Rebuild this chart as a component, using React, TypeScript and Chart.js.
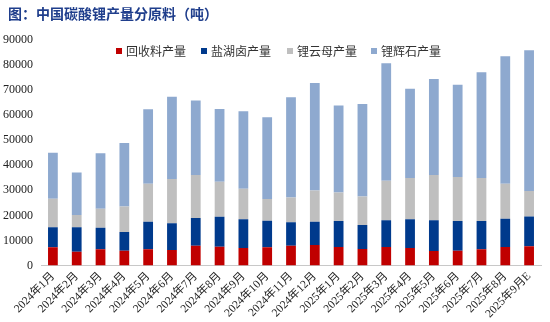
import React, { useEffect, useRef } from "react";
import { Chart, registerables } from "chart.js";

Chart.register(...registerables);

const categories = [
  "2024年1月", "2024年2月", "2024年3月", "2024年4月", "2024年5月", "2024年6月", "2024年7月",
  "2024年8月", "2024年9月", "2024年10月", "2024年11月", "2024年12月", "2025年1月", "2025年2月",
  "2025年3月", "2025年4月", "2025年5月", "2025年6月", "2025年7月", "2025年8月", "2025年9月E",
];

const recycled = [7300, 5500, 6500, 5900, 6500, 6200, 7900, 7500, 7000, 7300, 7900, 8200, 7400, 6600, 7400, 7000, 5800, 5900, 6500, 7400, 7700];
const brine = [8000, 9800, 8600, 7500, 11000, 10700, 11100, 12000, 11500, 10600, 9400, 9300, 10400, 9600, 10700, 11500, 12300, 11900, 11300, 11300, 11900];
const lepidolite = [11300, 4900, 7500, 10100, 15100, 17600, 17100, 13900, 12100, 8600, 9800, 12400, 11300, 11300, 15700, 16400, 18000, 17500, 17100, 13900, 10100];
const spodumene = [18400, 16900, 22200, 25400, 29800, 32900, 29800, 29100, 31000, 32700, 40100, 42900, 34800, 37000, 46900, 35600, 38300, 36800, 42200, 50900, 56200];

const seriesNames = ["回收料产量", "盐湖卤产量", "锂云母产量", "锂辉石产量"];
const seriesColors = ["#C00000", "#003A8C", "#BFBFBF", "#8EA9CF"];
const yTicks = [0, 10000, 20000, 30000, 40000, 50000, 60000, 70000, 80000, 90000];

const title = "图：中国碳酸锂产量分原料（吨）";
const legendLeft = [116, 201, 287, 371];

export default function App() {
  const ref = useRef<HTMLCanvasElement | null>(null);

  useEffect(() => {
    if (!ref.current) return;
    const values = [recycled, brine, lepidolite, spodumene];
    const chart = new Chart(ref.current, {
      type: "bar",
      data: {
        labels: categories,
        datasets: values.map((d, i) => ({
          label: seriesNames[i],
          data: d,
          backgroundColor: seriesColors[i],
          borderWidth: 0,
          barPercentage: 0.41,
          categoryPercentage: 1,
        })),
      },
      options: {
        responsive: false,
        animation: false,
        layout: { padding: { top: 40, right: 9, left: 0, bottom: 0 } },
        plugins: {
          legend: { display: false },
          title: { display: false },
          tooltip: { enabled: false },
        },
        scales: {
          x: {
            stacked: true,
            grid: { display: false, drawTicks: false },
            border: { display: true, color: "#C8C8C8", width: 1 },
            ticks: {
              maxRotation: 45,
              minRotation: 45,
              autoSkip: false,
              padding: 4,
              color: "#222",
              font: { family: "'Liberation Serif', 'Noto Sans CJK SC'", size: 11.5 },
            },
            afterFit: (s: any) => {
              s.height = 56.5;
            },
          },
          y: {
            stacked: true,
            min: 0,
            max: 90000,
            afterBuildTicks: (s: any) => {
              s.ticks = yTicks.map((v) => ({ value: v }));
            },
            grid: { display: false, drawTicks: false },
            border: { display: false },
            ticks: {
              padding: 8,
              color: "#222",
              font: { family: "'Liberation Serif'", size: 12 },
              callback: (v: any) => String(v),
            },
            afterFit: (s: any) => {
              s.width = 41;
            },
          },
        },
      },
    });
    return () => chart.destroy();
  }, []);

  return (
    <div style={{ position: "absolute", left: 0, top: 0, width: 550, height: 322, background: "#fff" }}>
      <canvas ref={ref} width={550} height={322} style={{ position: "absolute", left: 0, top: 0 }} />
      <div
        style={{
          position: "absolute",
          left: 8,
          top: 4,
          fontFamily: "'Noto Sans CJK SC'",
          fontWeight: 700,
          fontSize: 14,
          lineHeight: "18px",
          color: "#1F3E8C",
          whiteSpace: "nowrap",
        }}
      >
        {title}
      </div>
      {seriesNames.map((n, i) => (
        <div
          key={n}
          style={{
            position: "absolute",
            left: legendLeft[i],
            top: 44,
            height: 14,
            display: "flex",
            alignItems: "center",
            fontFamily: "'Noto Sans CJK SC'",
            fontSize: 12,
            lineHeight: "14px",
            color: "#333",
            whiteSpace: "nowrap",
          }}
        >
          <span style={{ display: "inline-block", width: 6, height: 6, background: seriesColors[i], marginRight: 4 }} />
          <span style={{ letterSpacing: 0 }}>{n}</span>
        </div>
      ))}
    </div>
  );
}
